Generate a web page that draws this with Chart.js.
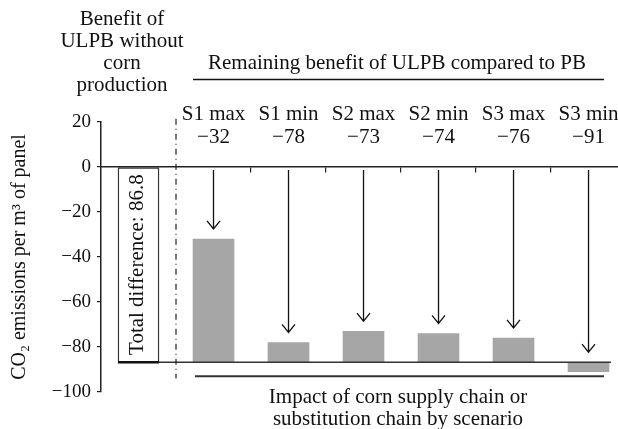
<!DOCTYPE html>
<html>
<head>
<meta charset="utf-8">
<script src="https://cdn.jsdelivr.net/npm/chart.js@4.4.0/dist/chart.umd.min.js"></script>
<style>
  html, body { margin: 0; padding: 0; background: #fff; }
  #wrap { width: 618px; height: 429px; position: relative; }
</style>
</head>
<body>
<div id="wrap"><canvas id="chart"></canvas></div>
<script>
// Datos del gráfico
const scenarios = ['S1 max', 'S1 min', 'S2 max', 'S2 min', 'S3 max', 'S3 min'];
const scenarioValues = [-32, -78, -73, -74, -76, -91];
const scenarioLabels = ['−32', '−78', '−73', '−74', '−76', '−91'];
const totalDifference = 86.8;
const yTicks = [20, 0, -20, -40, -60, -80, -100];
const leftHeader = ['Benefit of', 'ULPB without', 'corn', 'production'];
const topHeader = 'Remaining benefit of ULPB compared to PB';
const bottomHeader = ['Impact of corn supply chain or', 'substitution chain by scenario'];
const boxLabel = 'Total difference: 86.8';
const yTitle = 'CO₂ emissions per m³ of panel';

const FONT = '"Liberation Serif", "DejaVu Serif", serif';
Chart.defaults.font.family = FONT;
Chart.defaults.color = '#111';

const minus = (v) => (v < 0 ? '−' + Math.abs(v) : String(v));

// Dibujo de flechas, líneas de referencia y textos
const overlay = {
  id: 'overlay',
  afterDatasetsDraw(chart) {
    const { ctx } = chart;
    const xs = chart.scales.x;
    const ys = chart.scales.y;
    const box = chart.getDatasetMeta(0).data[0];
    const bars = chart.getDatasetMeta(1).data;
    const first = bars[0];
    const last = bars[bars.length - 1];
    const spanL = first.x - first.width / 2;
    const spanR = last.x + last.width / 2;
    const yBase = ys.getPixelForValue(-totalDifference);
    const yZero = ys.getPixelForValue(0);

    ctx.save();

    // linea base
    ctx.strokeStyle = '#333';
    ctx.lineWidth = 1.5;
    ctx.beginPath();
    ctx.moveTo(box.x - box.width / 2, yBase);
    ctx.lineTo(spanR + 2, yBase);
    ctx.stroke();
    ctx.lineWidth = 2.5;
    ctx.strokeStyle = '#111';
    ctx.beginPath();
    ctx.moveTo(box.x - box.width / 2, yBase);
    ctx.lineTo(box.x + box.width / 2, yBase);
    ctx.stroke();

    // linea punto-raya
    const xDiv = xs.getPixelForValue(1);
    ctx.strokeStyle = '#222';
    ctx.lineWidth = 1.2;
    ctx.setLineDash([6, 4, 1, 4]);
    ctx.beginPath();
    ctx.moveTo(xDiv, ys.getPixelForValue(21.5));
    ctx.lineTo(xDiv, ys.getPixelForValue(-94));
    ctx.stroke();
    ctx.setLineDash([]);

    // flechas
    ctx.strokeStyle = '#111';
    ctx.lineWidth = 1.3;
    bars.forEach((b, i) => {
      const top = Math.max(scenarioValues[i], -totalDifference);
      const tip = ys.getPixelForValue(top + 4.5);
      ctx.beginPath();
      ctx.moveTo(b.x, yZero + 3);
      ctx.lineTo(b.x, tip);
      ctx.moveTo(b.x - 6.5, tip - 8);
      ctx.lineTo(b.x, tip);
      ctx.lineTo(b.x + 6.5, tip - 8);
      ctx.stroke();
    });

    // lineas de encabezado y pie
    ctx.strokeStyle = '#111';
    ctx.lineWidth = 1.5;
    ctx.beginPath();
    ctx.moveTo(spanL, 79.5);
    ctx.lineTo(spanR - 5, 79.5);
    ctx.stroke();
    ctx.strokeStyle = '#333';
    ctx.lineWidth = 2;
    ctx.beginPath();
    ctx.moveTo(spanL + 2, yBase + 14);
    ctx.lineTo(spanR - 5, yBase + 14);
    ctx.stroke();

    // textos
    ctx.fillStyle = '#111';
    ctx.textAlign = 'center';
    ctx.textBaseline = 'alphabetic';
    ctx.font = '21px ' + FONT;
    const yTop = ys.getPixelForValue(20);
    bars.forEach((b, i) => {
      ctx.fillText(scenarios[i], b.x, yTop - 2);
      ctx.fillText(scenarioLabels[i], b.x, yTop + 21);
    });
    const mid = (spanL + spanR) / 2;
    ctx.fillText(topHeader, mid - 4, 69);
    ctx.fillText(bottomHeader[0], mid - 3, 403);
    ctx.fillText(bottomHeader[1], mid - 3, 425);
    const xHead = xs.getPixelForValue(0.28);
    leftHeader.forEach((t, i) => ctx.fillText(t, xHead, 25 + i * 22));

    // texto de la caja
    ctx.translate(box.x - 1, (yZero + yBase) / 2);
    ctx.rotate(-Math.PI / 2);
    ctx.textBaseline = 'middle';
    ctx.fillText(boxLabel, 0, 0);

    ctx.restore();
  }
};

new Chart(document.getElementById('chart').getContext('2d'), {
  type: 'bar',
  data: {
    datasets: [
      {
        data: [{ x: 0.5, y: [0, -totalDifference] }],
        backgroundColor: '#fff',
        borderColor: '#333',
        borderWidth: 1.4,
        borderSkipped: false,
        barThickness: 41,
        grouped: false
      },
      {
        data: scenarioValues.map((v, i) => ({ x: i + 1.5, y: [-totalDifference, v] })),
        backgroundColor: '#a6a6a6',
        borderWidth: 0,
        barThickness: 41,
        grouped: false
      }
    ]
  },
  options: {
    responsive: true,
    maintainAspectRatio: false,
    animation: false,
    layout: { padding: { top: 122, bottom: 37, left: 0, right: 0 } },
    plugins: {
      legend: { display: false },
      tooltip: { enabled: false }
    },
    scales: {
      x: {
        type: 'linear',
        position: { y: 0 },
        offset: false,
        min: 0,
        max: 6.893,
        afterBuildTicks: (scale) => {
          scale.ticks = [2, 3, 4, 5, 6].map((v) => ({ value: v }));
        },
        ticks: { display: false },
        grid: { drawOnChartArea: false, offset: false, tickLength: 5, color: '#222', lineWidth: 1.2 },
        border: { color: '#222', width: 1.5 }
      },
      y: {
        min: -100,
        max: 20,
        afterBuildTicks: (scale) => {
          scale.ticks = yTicks.map((v) => ({ value: v }));
        },
        afterFit: (scale) => { scale.width = 101; },
        ticks: {
          callback: (v) => minus(v),
          font: { size: 19, family: FONT },
          color: '#111',
          padding: 6
        },
        grid: { drawOnChartArea: false, tickLength: 4, color: '#222', lineWidth: 1.2 },
        border: { color: '#222', width: 1.5 },
        title: {
          display: true,
          text: yTitle,
          font: { size: 20, family: FONT },
          color: '#111',
          padding: { top: 8, bottom: 0 }
        }
      }
    }
  },
  plugins: [overlay]
});
</script>
</body>
</html>
